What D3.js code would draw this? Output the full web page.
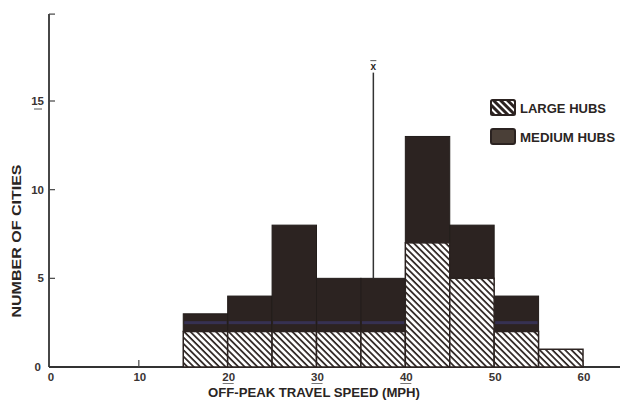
<!DOCTYPE html>
<html lang="en">
<head>
<meta charset="UTF-8">
<title>Off-peak travel speed</title>
<script src="https://cdn.jsdelivr.net/npm/d3@7/dist/d3.min.js"></script>
<style>
  body { margin: 0; background: #fff; }
  svg { display: block; }
  text { font-family: "Liberation Sans", Arial, sans-serif; font-weight: bold; fill: #2a2523; }
</style>
</head>
<body>
<svg width="622" height="402"></svg>
<script>
// bins of 5 mph: start of each bin
var binStart = [15, 20, 25, 30, 35, 40, 45, 50, 55];
var largeHubs = [2, 2, 2, 2, 2, 7, 5, 2, 1];
var mediumHubs = [1, 2, 6, 3, 3, 6, 3, 2, 0];
var xTicks = [0, 10, 20, 30, 40, 50, 60];
var yTicks = [0, 5, 10, 15];
var meanSpeed = 36.4;
var legendLabels = ["LARGE HUBS", "MEDIUM HUBS"];

var svg = d3.select("svg");
var dark = "#2c2321";

var x = d3.scaleLinear().domain([0, 60]).range([50, 583]);
var y = d3.scaleLinear().domain([0, 15]).range([367, 101]);

// hatch pattern (stripes going down to the right)
var defs = svg.append("defs");
var pat = defs.append("pattern")
  .attr("id", "hatch").attr("patternUnits", "userSpaceOnUse")
  .attr("width", 4.5).attr("height", 4.5)
  .attr("patternTransform", "rotate(45)");
pat.append("rect").attr("width", 4.5).attr("height", 4.5).attr("fill", "#fff");
pat.append("rect").attr("width", 4.5).attr("height", 1.7).attr("fill", dark);

var patInv = defs.append("pattern")
  .attr("id", "hatchInv").attr("patternUnits", "userSpaceOnUse")
  .attr("width", 5).attr("height", 5)
  .attr("patternTransform", "rotate(45)");
patInv.append("rect").attr("width", 5).attr("height", 5).attr("fill", dark);
patInv.append("rect").attr("width", 5).attr("height", 2).attr("fill", "#fff");

var bins = binStart.map(function(s, i) {
  return { x0: s, x1: s + 5, large: largeHubs[i], medium: mediumHubs[i] };
});

// axes lines
var axisG = svg.append("g");
axisG.append("line")
  .attr("x1", x(0) - 1).attr("x2", 620)
  .attr("y1", y(0)).attr("y2", y(0))
  .attr("stroke", "#333").attr("stroke-width", 1.8);
axisG.append("line")
  .attr("x1", x(0) - 1).attr("x2", x(0) - 1)
  .attr("y1", y(0)).attr("y2", y(19.9))
  .attr("stroke", "#333").attr("stroke-width", 1.8);

// y ticks (inside) + top tick
axisG.selectAll(".yt").data(yTicks.slice(1).concat([19.9])).enter().append("line")
  .attr("x1", x(0) - 1).attr("x2", x(0) + 5)
  .attr("y1", function(d) { return y(d); }).attr("y2", function(d) { return y(d); })
  .attr("stroke", "#444").attr("stroke-width", 1.2);

axisG.selectAll(".yl").data(yTicks).enter().append("text")
  .attr("x", function(d) { return d === 0 ? 41 : 44; })
  .attr("y", function(d) { return y(d) + 4; })
  .attr("text-anchor", "end")
  .attr("font-size", 11.5)
  .style("fill", "#3a3433")
  .text(function(d) { return d; });
// underline on 15
axisG.append("line")
  .attr("x1", 34).attr("x2", 42).attr("y1", y(15) + 8).attr("y2", y(15) + 8)
  .attr("stroke", "#555").attr("stroke-width", 1);

// x ticks (upward)
axisG.selectAll(".xt").data(xTicks.slice(1)).enter().append("line")
  .attr("x1", function(d) { return x(d); }).attr("x2", function(d) { return x(d); })
  .attr("y1", y(0)).attr("y2", y(0) - 7)
  .attr("stroke", "#444").attr("stroke-width", 1.2);

axisG.selectAll(".xl").data(xTicks).enter().append("text")
  .attr("x", function(d) { return x(d) + 1; })
  .attr("y", y(0) + 14)
  .attr("text-anchor", "middle")
  .attr("font-size", 11.5)
  .style("fill", "#3a3433")
  .text(function(d) { return d; });
// underlines on 20, 30, 40
axisG.selectAll(".xu").data([20, 30, 40]).enter().append("line")
  .attr("x1", function(d) { return x(d) - 5; }).attr("x2", function(d) { return x(d) + 6; })
  .attr("y1", y(0) + 16.5).attr("y2", y(0) + 16.5)
  .attr("stroke", "#777").attr("stroke-width", 1);

// bars: large (hatched) at bottom, medium (dark) on top
var barG = svg.append("g");
barG.selectAll(".med").data(bins.filter(function(d) { return d.medium > 0; })).enter().append("rect")
  .attr("x", function(d) { return x(d.x0); })
  .attr("width", function(d) { return x(d.x1) - x(d.x0); })
  .attr("y", function(d) { return y(d.large + d.medium); })
  .attr("height", function(d) { return y(d.large) - y(d.large + d.medium); })
  .attr("fill", dark).attr("stroke", "#221c1a").attr("stroke-width", 1);

// faint bluish scan streak in the dark bars
barG.selectAll(".streak").data(bins.filter(function(d) { return d.large < 2.5 && d.large + d.medium > 2.5; }))
  .enter().append("rect")
  .attr("x", function(d) { return x(d.x0) + 1; })
  .attr("width", function(d) { return x(d.x1) - x(d.x0) - 2; })
  .attr("y", y(2.5) - 1.5).attr("height", 3)
  .attr("fill", "#3b3868").attr("opacity", 0.7);

barG.selectAll(".lg").data(bins).enter().append("rect")
  .attr("x", function(d) { return x(d.x0); })
  .attr("width", function(d) { return x(d.x1) - x(d.x0); })
  .attr("y", function(d) { return y(d.large); })
  .attr("height", function(d) { return y(0) - y(d.large); })
  .attr("fill", "url(#hatch)").attr("stroke", dark).attr("stroke-width", 1.5);

// mean line
svg.append("line")
  .attr("x1", x(meanSpeed)).attr("x2", x(meanSpeed))
  .attr("y1", y(5)).attr("y2", y(16.6))
  .attr("stroke", "#333").attr("stroke-width", 1.5);
svg.append("text")
  .attr("x", x(meanSpeed)).attr("y", y(16.6) - 3)
  .attr("text-anchor", "middle").attr("font-size", 10)
  .text("x");
svg.append("line")
  .attr("x1", x(meanSpeed) - 3).attr("x2", x(meanSpeed) + 3)
  .attr("y1", y(16.6) - 12).attr("y2", y(16.6) - 12)
  .attr("stroke", "#555").attr("stroke-width", 1);

// legend
var leg = svg.append("g").attr("transform", "translate(491,100)");
leg.append("rect").attr("x", 0).attr("y", 0).attr("width", 24).attr("height", 15)
  .attr("rx", 1.5).attr("fill", "url(#hatchInv)").attr("stroke", dark).attr("stroke-width", 2);
leg.append("rect").attr("x", 0).attr("y", 29).attr("width", 24).attr("height", 15)
  .attr("rx", 2).attr("fill", "#4a3f37").attr("stroke", "#2b2321").attr("stroke-width", 2);
var legWidths = [86, 95];
leg.selectAll(".lt").data(legendLabels).enter().append("text")
  .attr("x", 29).attr("y", function(d, i) { return 12.5 + i * 29; })
  .attr("font-size", 12.5)
  .attr("textLength", function(d, i) { return legWidths[i]; })
  .attr("lengthAdjust", "spacingAndGlyphs")
  .text(function(d) { return d; });

// axis titles
svg.append("text")
  .attr("x", 314).attr("y", 397)
  .attr("text-anchor", "middle").attr("font-size", 12.5)
  .attr("textLength", 212).attr("lengthAdjust", "spacingAndGlyphs")
  .text("OFF-PEAK TRAVEL SPEED (MPH)");
svg.append("text")
  .attr("transform", "translate(21,241) rotate(-90)")
  .attr("text-anchor", "middle").attr("font-size", 12.5)
  .attr("textLength", 153).attr("lengthAdjust", "spacingAndGlyphs")
  .text("NUMBER OF CITIES");
</script>
</body>
</html>
